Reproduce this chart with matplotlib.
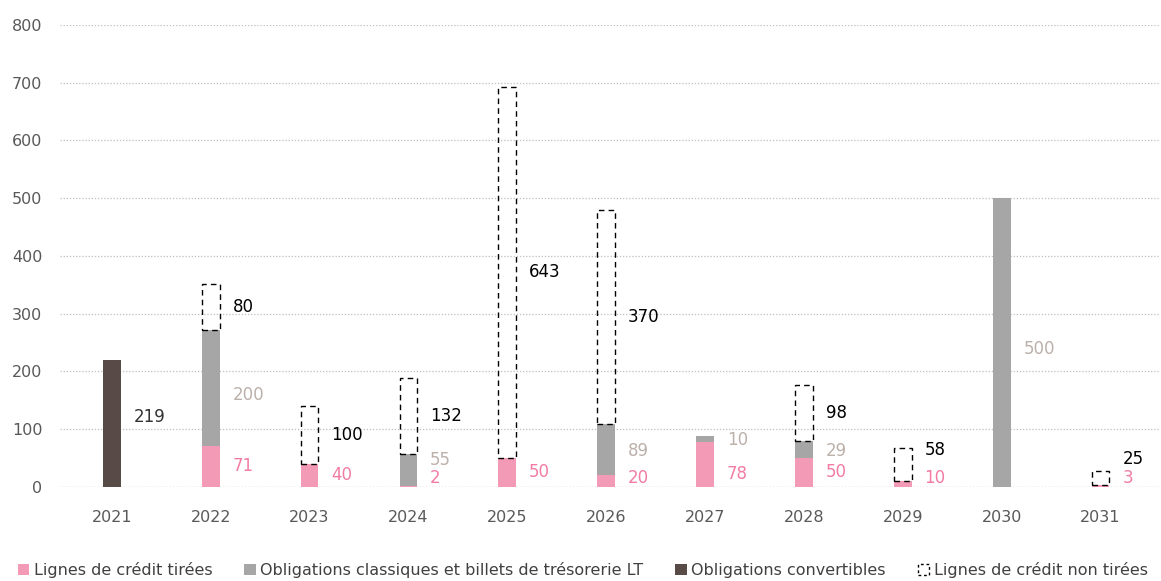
import numpy as np
import matplotlib
matplotlib.use("Agg")
import matplotlib.pyplot as plt
from matplotlib.patches import Patch

years = ["2021", "2022", "2023", "2024", "2025", "2026", "2027", "2028", "2029", "2030", "2031"]
drawn = [0, 71, 40, 2, 50, 20, 78, 50, 10, 0, 3]
classic = [0, 200, 0, 55, 0, 89, 10, 29, 0, 500, 0]
convert = [219, 0, 0, 0, 0, 0, 0, 0, 0, 0, 0]
undrawn = [0, 80, 100, 132, 643, 370, 0, 98, 58, 0, 25]

c_pink = "#F29AB6"
c_gray = "#A6A6A6"
c_dark = "#584A46"
lab_pink = "#F27CA5"
lab_gray = "#BCB0AA"
tick_col = "#595959"

fig = plt.figure(figsize=(11.61, 5.81), dpi=100)
ax = fig.add_axes([0.052, 0.162, 0.947, 0.795])

x = np.arange(len(years))
w = 0.18
drawn = np.array(drawn)
classic = np.array(classic)
convert = np.array(convert)
undrawn = np.array(undrawn)

ax.bar(x, drawn, w, color=c_pink, zorder=3)
ax.bar(x, classic, w, bottom=drawn, color=c_gray, zorder=3)
ax.bar(x, convert, w, bottom=drawn + classic, color=c_dark, zorder=3)
base = drawn + classic + convert
m = undrawn > 0
ax.bar(x[m], undrawn[m], w, bottom=base[m], facecolor="none", edgecolor="black",
       linestyle=(0, (4, 3)), linewidth=1, zorder=3)

dx = 0.22
fs = 12
for i in range(len(years)):
    if drawn[i] > 0:
        y = max(drawn[i] / 2, 16)
        if i == 6:
            y = 22
        ax.text(x[i] + dx, y, str(drawn[i]), color=lab_pink, fontsize=fs,
                va="center", ha="left")
    if classic[i] > 0:
        y = drawn[i] + classic[i] / 2 - 12
        if classic[i] < 100:
            y = drawn[i] + classic[i] / 2 - 3
            if drawn[i] < 15:
                y = max(y, 47)
            if i == 6:
                y = 81
        ax.text(x[i] + dx, y, str(classic[i]), color=lab_gray, fontsize=fs,
                va="center", ha="left")
    if convert[i] > 0:
        y = drawn[i] + classic[i] + convert[i] / 2 + 12
        ax.text(x[i] + dx, y, str(convert[i]), color="#333333", fontsize=fs,
                va="center", ha="left")
    if undrawn[i] > 0:
        y = base[i] + undrawn[i] / 2
        if undrawn[i] < 70:
            y = base[i] + undrawn[i] / 2 + 25
            if i == 10:
                y = 48
        ax.text(x[i] + dx, y, str(undrawn[i]), color="black", fontsize=fs,
                va="center", ha="left")

ax.set_ylim(0, 800)
ax.set_yticks(range(0, 801, 100))
ax.set_xlim(-0.52, 10.6)
ax.set_xticks(x)
ax.set_xticklabels(years)
ax.yaxis.grid(True, color="#BFBFBF", linestyle=(0, (1, 1.5)), linewidth=0.9, zorder=0)
for s in ax.spines.values():
    s.set_visible(False)
ax.axhline(0, color="#BFBFBF", linewidth=0.9, linestyle=(0, (1, 1.5)), zorder=1)
ax.tick_params(axis="both", length=0, colors=tick_col, labelsize=11.5)
ax.tick_params(axis="x", pad=17)
ax.tick_params(axis="y", pad=13)

handles = [
    Patch(facecolor=c_pink, edgecolor="none", label="Lignes de crédit tirées"),
    Patch(facecolor=c_gray, edgecolor="none", label="Obligations classiques et billets de trésorerie LT"),
    Patch(facecolor=c_dark, edgecolor="none", label="Obligations convertibles"),
    Patch(facecolor="none", edgecolor="black", linestyle=(0, (2, 2)), label="Lignes de crédit non tirées"),
]
fig.legend(handles=handles, loc="lower center", bbox_to_anchor=(0.502, -0.02), ncol=4,
           frameon=False, fontsize=11.5, handlelength=0.7, handleheight=0.7,
           handletextpad=0.3, columnspacing=2.0, labelcolor="#404040")

fig.savefig("out.png", dpi=100)
